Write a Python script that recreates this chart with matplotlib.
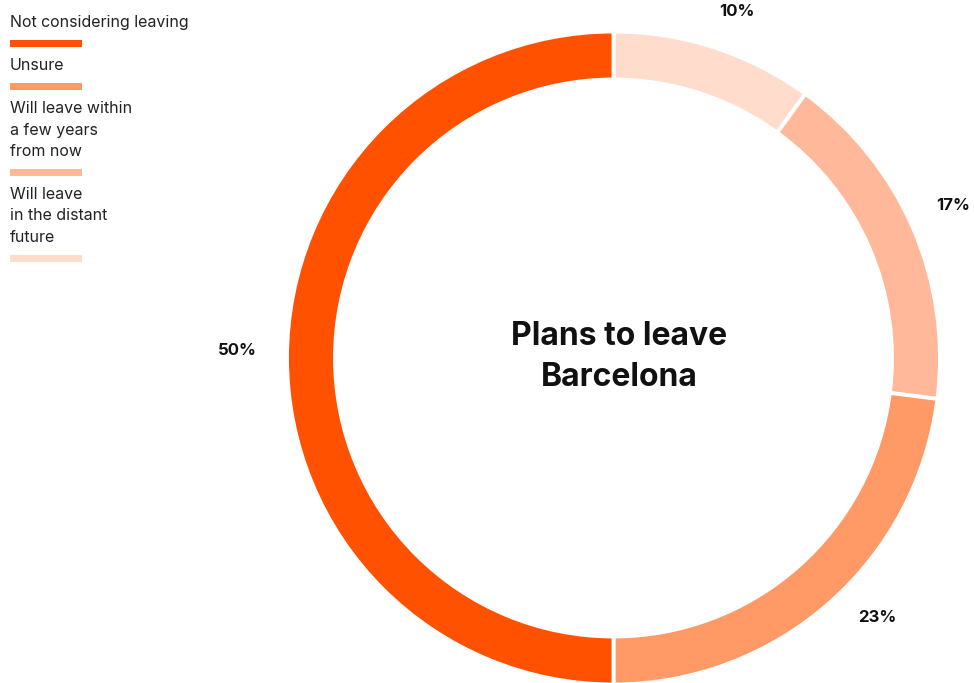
import numpy as np
import matplotlib
matplotlib.use("Agg")
import matplotlib.pyplot as plt

# Survey shares, drawn clockwise from 12 o'clock
categories = [
    "Will leave\nin the distant\nfuture",
    "Will leave within\na few years\nfrom now",
    "Unsure",
    "Not considering leaving",
]
shares = [10, 17, 23, 50]
colors = ["#FFDCCB", "#FFB899", "#FF9966", "#FF5100"]
title = "Plans to leave\nBarcelona"

# Legend order (top to bottom)
legend_order = [3, 2, 1, 0]

W, H = 974, 683
fig = plt.figure(figsize=(W / 100, H / 100), dpi=100)
ax = fig.add_axes([0, 0, 1, 1])

cx, cy, radius, ring = 613.5, H - 358, 326.5, 48

ax.pie(
    shares,
    colors=colors,
    startangle=90,
    counterclock=False,
    center=(cx, cy),
    radius=radius,
    wedgeprops=dict(width=ring, edgecolor="white", linewidth=2.8),
)
ax.set_xlim(0, W)
ax.set_ylim(0, H)
ax.set_aspect("equal")
ax.axis("off")

font = "Inter"

# Percentage labels outside the ring near each slice's mid-angle
label_nudge = [(8.5, -7), (-2, 5), (17.5, 20), (-4.5, 8)]
cum = np.cumsum([0] + shares)
label_r = 372
for i, v in enumerate(shares):
    mid = 90 - 360 * (cum[i] + v / 2) / 100
    a = np.deg2rad(mid)
    dx, dy = label_nudge[i]
    ax.text(cx + label_r * np.cos(a) + dx, cy + label_r * np.sin(a) + dy, f"{v}%",
            ha="center", va="center", fontsize=12, fontweight="bold",
            family=font, color="#111111")

# Center title
ax.text(cx + 6, H - 357, title, ha="center", va="center", fontsize=23,
        fontweight="bold", family=font, color="#111111", linespacing=1.45)

# Legend: label text followed by a colour swatch
y = 21
line_h = 21.5
for idx in legend_order:
    lines = categories[idx].split("\n")
    for k, ln in enumerate(lines):
        ax.text(10, H - y - 1.5, ln, ha="left", va="center", fontsize=11.5,
                family=font, color="#222222")
        if k < len(lines) - 1:
            y += line_h
    y += 22.5
    ax.add_patch(plt.Rectangle((10, H - y - 3.5), 72, 7, color=colors[idx], lw=0))
    y += 20.5

fig.savefig("out.png", dpi=100)
